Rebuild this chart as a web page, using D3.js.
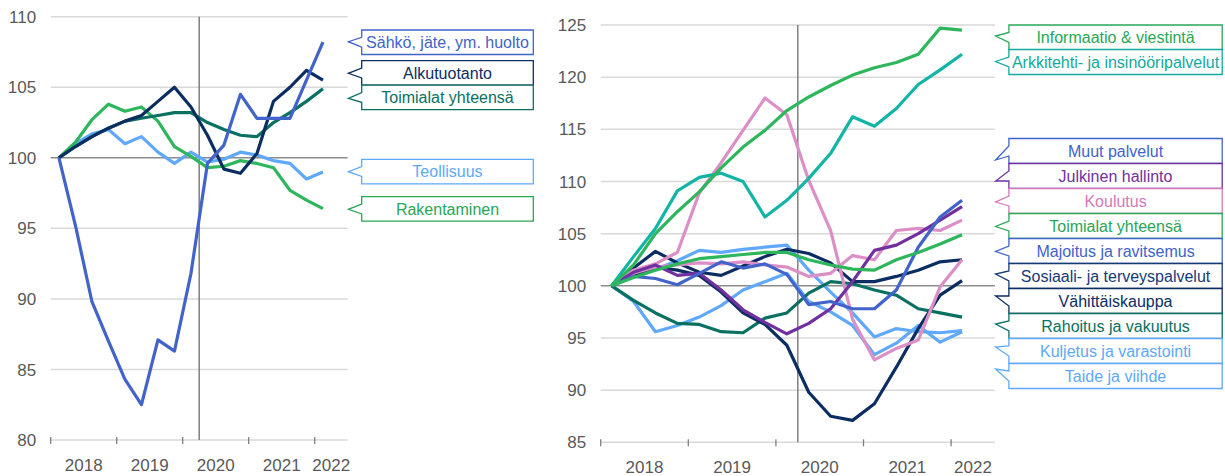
<!DOCTYPE html>
<html lang="fi">
<head>
<meta charset="UTF-8">
<title>Toimialat</title>
<script src="https://cdn.jsdelivr.net/npm/d3@7"></script>
<style>
  body { margin: 0; background: #fff; }
  svg { display: block; font-family: "Liberation Sans", Arial, sans-serif; }
  .tick-label { fill: #595959; font-size: 17px; }
  .callout text { font-size: 16px; }
</style>
</head>
<body>
<svg id="chart" width="1225" height="476"></svg>
<script>
// quarters on the category axis (last one is empty, like the original)
const quarters = ["2018Q1","2018Q2","2018Q3","2018Q4","2019Q1","2019Q2","2019Q3","2019Q4",
                  "2020Q1","2020Q2","2020Q3","2020Q4","2021Q1","2021Q2","2021Q3","2021Q4",
                  "2022Q1","2022Q2"];
const years = ["2018","2019","2020","2021","2022"];

// left panel
const leftNames = ["Sähkö, jäte, ym. huolto","Alkutuotanto","Toimialat yhteensä","Teollisuus","Rakentaminen"];
const sahko        = [100, 95.2, 89.8, 87.0, 84.3, 82.5, 87.1, 86.3, 91.8, 99.6, 100.9, 104.5, 102.8, 102.8, 102.8, 105.5, 108.2];
const alkutuotanto = [100, 100.8, 101.5, 102.1, 102.6, 103.0, 104.0, 105.0, 103.6, 101.6, 99.2, 98.9, 100.3, 104.0, 105.0, 106.2, 105.5];
const toimialat    = [100, 100.8, 101.5, 102.1, 102.6, 102.8, 103.0, 103.2, 103.2, 102.5, 102.0, 101.6, 101.5, 102.5, 103.2, 104.0, 104.9];
const teollisuus   = [100, 101.0, 101.7, 102.0, 101.0, 101.5, 100.4, 99.6, 100.4, 99.7, 99.9, 100.4, 100.2, 99.8, 99.6, 98.5, 99.0];
const rakentaminen = [100, 101.1, 102.7, 103.8, 103.3, 103.6, 102.6, 100.8, 100.1, 99.3, 99.4, 99.8, 99.6, 99.3, 97.7, 97.0, 96.4];

// right panel
const rightNames = ["Informaatio & viestintä","Arkkitehti- ja insinööripalvelut","Muut palvelut","Julkinen hallinto",
                    "Koulutus","Toimialat yhteensä","Majoitus ja ravitsemus","Sosiaali- ja terveyspalvelut",
                    "Vähittäiskauppa","Rahoitus ja vakuutus","Kuljetus ja varastointi","Taide ja viihde"];
const informaatio = [100, 102.0, 105.0, 107.1, 109.0, 111.3, 113.3, 114.9, 116.8, 118.1, 119.2, 120.2, 120.9, 121.4, 122.2, 124.7, 124.5];
const arkkitehti  = [100, 102.8, 105.5, 109.1, 110.4, 110.8, 110.0, 106.6, 108.2, 110.3, 112.7, 116.2, 115.3, 117.0, 119.3, 120.7, 122.2];
const muut        = [100, 100.9, 100.7, 100.1, 101.2, 102.3, 101.7, 102.1, 101.1, 98.2, 98.5, 97.8, 97.8, 99.6, 103.7, 106.6, 108.2];
const julkinen    = [100, 101.3, 102.0, 101.0, 101.2, 99.6, 97.7, 96.5, 95.4, 96.4, 97.8, 100.4, 103.4, 103.9, 105.0, 106.3, 107.6];
const koulutus    = [100, 101.2, 101.8, 102.0, 102.2, 102.1, 102.3, 102.0, 101.8, 100.9, 101.2, 102.9, 102.5, 105.3, 105.5, 105.3, 106.3];
const majoitus    = [100, 101.5, 102.1, 103.2, 108.9, 111.8, 114.9, 118.0, 116.4, 110.1, 105.3, 96.8, 92.9, 94.0, 94.8, 99.9, 102.5];
const sosiaali    = [100, 101.7, 103.3, 102.2, 101.3, 101.0, 101.9, 102.8, 103.5, 103.1, 102.2, 100.4, 100.4, 100.9, 101.5, 102.3, 102.5];
const vahittais   = [100, 101.0, 101.8, 101.5, 101.0, 99.4, 97.4, 96.3, 94.3, 89.8, 87.5, 87.1, 88.7, 92.2, 95.9, 99.1, 100.5];
const rahoitus    = [100, 98.6, 97.4, 96.4, 96.3, 95.6, 95.5, 96.9, 97.4, 99.3, 100.4, 100.2, 99.6, 99.1, 97.8, 97.4, 97.0];
const kuljetus    = [100, 101.0, 101.6, 102.4, 103.4, 103.2, 103.5, 103.7, 103.9, 101.5, 99.4, 97.4, 95.1, 95.9, 95.6, 95.5, 95.7];
const taide       = [100, 98.5, 95.6, 96.2, 97.0, 98.1, 99.6, 100.4, 101.2, 98.5, 97.5, 96.2, 93.4, 94.5, 96.2, 94.6, 95.6];

const leftTicks = [80, 85, 90, 95, 100, 105, 110];
const rightTicks = [85, 90, 95, 100, 105, 110, 115, 120, 125];

const C = {
  royal: "#4263c9", navy: "#0c2d62", teal: "#0a7062", light: "#60a8fa", green: "#2db65c",
  aqua: "#12b5a5", purple: "#7030a0", pink: "#dc8fc6"
};

const svg = d3.select("#chart");

function panel(opt) {
  const x = d3.scaleBand().domain(quarters).range([opt.left, opt.right]);
  const y = d3.scaleLinear().domain(opt.domain).range([opt.bottom, opt.top]);
  const g = svg.append("g");
  const cx = i => x(quarters[i]) + x.bandwidth() / 2;

  // gridlines
  g.selectAll(".grid").data(opt.ticks).join("line")
    .attr("x1", opt.left).attr("x2", opt.right)
    .attr("y1", d => y(d)).attr("y2", d => y(d))
    .attr("stroke", d => d === 100 ? "#8c8c8c" : "#d9d9d9")
    .attr("stroke-width", 1.5);

  g.selectAll(".ylab").data(opt.ticks).join("text")
    .attr("class", "tick-label")
    .attr("x", opt.left - 14.5).attr("y", d => y(d))
    .attr("dy", "0.36em").attr("text-anchor", "end")
    .text(d => d);

  // year ticks and labels
  const yearStart = years.map(yr => x(yr + "Q1"));
  g.selectAll(".xt").data(yearStart).join("line")
    .attr("x1", d => d).attr("x2", d => d)
    .attr("y1", opt.bottom - 3).attr("y2", opt.bottom + 4)
    .attr("stroke", "#7f7f7f").attr("stroke-width", 1.3);
  g.selectAll(".xlab").data(years).join("text")
    .attr("class", "tick-label")
    .attr("x", (yr, i) => {
      const qs = quarters.filter(q => q.startsWith(yr));
      return (x(qs[0]) + x(qs[qs.length - 1]) + x.bandwidth()) / 2;
    })
    .attr("y", opt.bottom + 31)
    .attr("text-anchor", "middle")
    .text(d => d);

  // covid marker between 2020Q1 and 2020Q2
  g.append("line")
    .attr("x1", x("2020Q2")).attr("x2", x("2020Q2"))
    .attr("y1", opt.top).attr("y2", opt.bottom)
    .attr("stroke", "#7f7f7f").attr("stroke-width", 1.5);

  const line = d3.line().x((d, i) => cx(i)).y(d => y(d));
  g.selectAll(".series").data(opt.series).join("path")
    .attr("d", s => line(s.values))
    .attr("fill", "none")
    .attr("stroke", s => s.color)
    .attr("stroke-width", 3.2)
    .attr("stroke-linejoin", "round");

  // callout labels
  const tipX = opt.right + 0.7, bx0 = opt.right + 14, bx1 = bx0 + opt.boxW;
  const cg = g.selectAll(".callout").data(opt.labels).join("g").attr("class", "callout");
  cg.append("path")
    .attr("d", l => {
      const y0 = l.top, y1 = l.top + opt.boxH;
      const b1 = y0 + opt.boxH * 0.3, b2 = y0 + opt.boxH * 0.7;
      return `M${bx0},${y0}H${bx1}V${y1}H${bx0}V${b2}L${tipX},${l.tip}L${bx0},${b1}Z`;
    })
    .attr("fill", "#fff").attr("stroke", l => l.color).attr("stroke-width", 1.3);
  cg.append("text")
    .attr("x", (bx0 + bx1) / 2).attr("y", l => l.top + opt.boxH / 2)
    .attr("dy", "0.36em").attr("text-anchor", "middle")
    .attr("fill", l => l.color)
    .text(l => l.name);
}

panel({
  left: 50.7, right: 347.7, top: 16.7, bottom: 440, domain: [80, 110], ticks: leftTicks,
  boxW: 171.6, boxH: 24.5,
  series: [
    { values: teollisuus, color: C.light },
    { values: rakentaminen, color: C.green },
    { values: toimialat, color: C.teal },
    { values: alkutuotanto, color: C.navy },
    { values: sahko, color: C.royal }
  ],
  labels: [
    { name: leftNames[0], color: C.royal, top: 30, tip: 41.7 },
    { name: leftNames[1], color: C.navy, top: 60.7, tip: 73.3 },
    { name: leftNames[2], color: C.teal, top: 85.2, tip: 98.3 },
    { name: leftNames[3], color: C.light, top: 159.3, tip: 171.7 },
    { name: leftNames[4], color: "#2aa657", top: 196.7, tip: 209.3 }
  ]
});

panel({
  left: 600.7, right: 994.9, top: 25, bottom: 442.3, domain: [85, 125], ticks: rightTicks,
  boxW: 213.3, boxH: 25,
  series: [
    { values: taide, color: C.light },
    { values: kuljetus, color: C.light },
    { values: rahoitus, color: C.teal },
    { values: vahittais, color: C.navy },
    { values: sosiaali, color: C.navy },
    { values: majoitus, color: C.pink },
    { values: koulutus, color: C.pink },
    { values: julkinen, color: C.purple },
    { values: muut, color: C.royal },
    { values: toimialat, color: C.green },
    { values: arkkitehti, color: C.aqua },
    { values: informaatio, color: C.green }
  ],
  labels: [
    { name: rightNames[0], color: "#2aa657", top: 25, tip: 36 },
    { name: rightNames[1], color: "#10ab9c", top: 49.5, tip: 61.5 },
    { name: rightNames[2], color: C.royal, top: 138.5, tip: 160 },
    { name: rightNames[3], color: C.purple, top: 163.5, tip: 181 },
    { name: rightNames[4], color: "#d37ab8", top: 188.5, tip: 202 },
    { name: rightNames[5], color: "#2aa657", top: 213.5, tip: 226.5 },
    { name: rightNames[6], color: C.royal, top: 238.5, tip: 251.5 },
    { name: rightNames[7], color: "#173a74", top: 263.5, tip: 274 },
    { name: rightNames[8], color: C.navy, top: 288.5, tip: 296 },
    { name: rightNames[9], color: C.teal, top: 313.5, tip: 324 },
    { name: rightNames[10], color: C.light, top: 338.5, tip: 347 },
    { name: rightNames[11], color: C.light, top: 363.5, tip: 369 }
  ]
});
</script>
</body>
</html>
